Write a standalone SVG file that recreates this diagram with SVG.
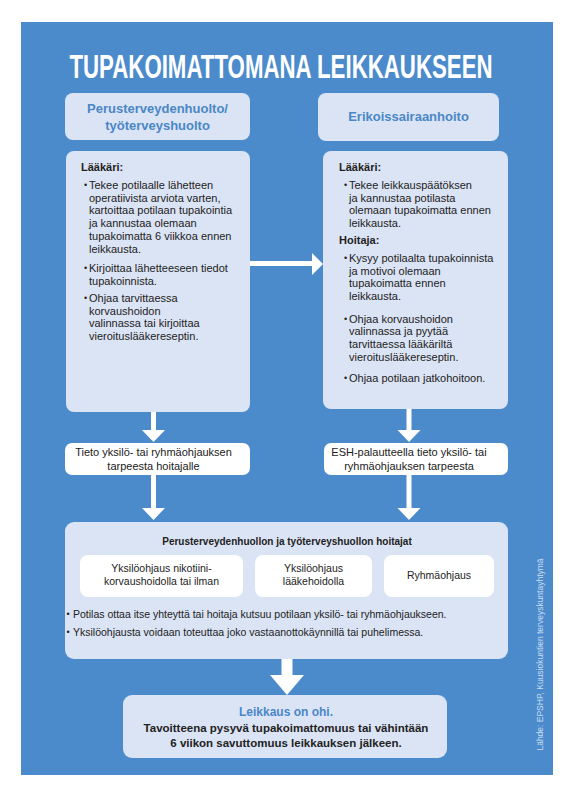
<svg xmlns="http://www.w3.org/2000/svg" width="573" height="798" viewBox="0 0 573 798">
<style>
text{font-family:"Liberation Sans",Arial,sans-serif}
.bg{fill:#4b8bcb}
.box{fill:#dbe4f5}
.wbox{fill:#ffffff}
.title{font-size:34px;font-weight:bold;fill:#ffffff}
.head{font-size:13px;font-weight:bold;fill:#4a87c6}
.t{font-size:11px;fill:#222222}
.tb{font-size:11px;font-weight:bold;fill:#222222}
.s{font-size:10.5px;fill:#222222}
.c{text-anchor:middle}
.bul{font-size:9px;fill:#222222}
.arrow{fill:#ffffff}
.src{font-size:8.5px;fill:#c9dcf1}
</style>
<rect class="bg" x="21" y="22" width="532" height="753"/>
<g id="title" transform="translate(281 78) scale(0.655 1)">
<text class="title c" x="0" y="0">TUPAKOIMATTOMANA LEIKKAUKSEEN</text>
</g>

<g id="header-left">
<rect class="box" x="65" y="93" width="185" height="47" rx="8"/>
<text class="head c" x="157.5" y="113">Perusterveydenhuolto/</text>
<text class="head c" x="157.5" y="130">työterveyshuolto</text>
</g>
<g id="header-right">
<rect class="box" x="318" y="93" width="181" height="48" rx="8"/>
<text class="head c" x="408.5" y="121">Erikoissairaanhoito</text>
</g>

<g id="left-content">
<rect class="box" x="66" y="151" width="184" height="261" rx="8"/>
<text class="tb" x="81" y="171">Lääkäri:</text>
<text class="bul" x="84" y="188">•</text>
<text class="t" x="89" y="189">Tekee potilaalle lähetteen</text>
<text class="t" x="89" y="201.7">operatiivista arviota varten,</text>
<text class="t" x="89" y="214.4">kartoittaa potilaan tupakointia</text>
<text class="t" x="89" y="227.1">ja kannustaa olemaan</text>
<text class="t" x="89" y="239.8">tupakoimatta 6 viikkoa ennen</text>
<text class="t" x="89" y="252.5">leikkausta.</text>
<text class="bul" x="84" y="271">•</text>
<text class="t" x="89" y="272">Kirjoittaa lähetteeseen tiedot</text>
<text class="t" x="89" y="284.7">tupakoinnista.</text>
<text class="bul" x="84" y="301">•</text>
<text class="t" x="89" y="302">Ohjaa tarvittaessa</text>
<text class="t" x="89" y="314.7">korvaushoidon</text>
<text class="t" x="89" y="327.4">valinnassa tai kirjoittaa</text>
<text class="t" x="89" y="340.1">vieroituslääkereseptin.</text>
</g>

<g id="right-content">
<rect class="box" x="323" y="151" width="185" height="258" rx="8"/>
<text class="tb" x="339" y="171">Lääkäri:</text>
<text class="bul" x="344" y="188">•</text>
<text class="t" x="349" y="189">Tekee leikkauspäätöksen</text>
<text class="t" x="349" y="201.7">ja kannustaa potilasta</text>
<text class="t" x="349" y="214.4">olemaan tupakoimatta ennen</text>
<text class="t" x="349" y="227.1">leikkausta.</text>
<text class="tb" x="339" y="243.5">Hoitaja:</text>
<text class="bul" x="344" y="261">•</text>
<text class="t" x="349" y="262">Kysyy potilaalta tupakoinnista</text>
<text class="t" x="349" y="274.7">ja motivoi olemaan</text>
<text class="t" x="349" y="287.4">tupakoimatta ennen</text>
<text class="t" x="349" y="300.1">leikkausta.</text>
<text class="bul" x="344" y="321.5">•</text>
<text class="t" x="349" y="322.5">Ohjaa korvaushoidon</text>
<text class="t" x="349" y="335.2">valinnassa ja pyytää</text>
<text class="t" x="349" y="347.9">tarvittaessa lääkäriltä</text>
<text class="t" x="349" y="360.6">vieroituslääkereseptin.</text>
<text class="bul" x="344" y="380.5">•</text>
<text class="t" x="349" y="381.5">Ohjaa potilaan jatkohoitoon.</text>
</g>

<g id="left-mid">
<rect class="wbox" x="65" y="443" width="185" height="32" rx="7"/>
<text class="t c" x="153.5" y="456">Tieto yksilö- tai ryhmäohjauksen</text>
<text class="t c" x="153.5" y="469.5">tarpeesta hoitajalle</text>
</g>
<g id="right-mid">
<rect class="wbox" x="324" y="443" width="184" height="32" rx="7"/>
<text class="t c" x="409" y="456">ESH-palautteella tieto yksilö- tai</text>
<text class="t c" x="409" y="469.5">ryhmäohjauksen tarpeesta</text>
</g>

<g id="hoitajat">
<rect class="box" x="65" y="522" width="443" height="137" rx="9"/>
<text class="c" x="287" y="545" style="font-size:10px;font-weight:bold;fill:#222222">Perusterveydenhuollon ja työterveyshuollon hoitajat</text>
<g id="opt1">
<rect class="wbox" x="80" y="555" width="163" height="42" rx="8"/>
<text class="s c" x="161.5" y="572">Yksilöohjaus nikotiini-</text>
<text class="s c" x="161.5" y="585">korvaushoidolla tai ilman</text>
</g>
<g id="opt2">
<rect class="wbox" x="255" y="555" width="117" height="42" rx="8"/>
<text class="s c" x="313.5" y="572">Yksilöohjaus</text>
<text class="s c" x="313.5" y="585">lääkehoidolla</text>
</g>
<g id="opt3">
<rect class="wbox" x="384" y="555" width="110" height="42" rx="8"/>
<text class="s c" x="439" y="579">Ryhmäohjaus</text>
</g>
<text class="bul" x="66.5" y="617">•</text>
<text class="s" x="73" y="618">Potilas ottaa itse yhteyttä tai hoitaja kutsuu potilaan yksilö- tai ryhmäohjaukseen.</text>
<text class="bul" x="66.5" y="635">•</text>
<text class="s" x="73" y="636">Yksilöohjausta voidaan toteuttaa joko vastaanottokäynnillä tai puhelimessa.</text>
</g>

<g id="final">
<rect class="box" x="123" y="695" width="324" height="63" rx="9"/>
<text class="c" x="286" y="716" style="font-size:12px;font-weight:bold;fill:#4a87c6">Leikkaus on ohi.</text>
<text class="c" x="286" y="732" style="font-size:11.5px;font-weight:bold;fill:#222222">Tavoitteena pysyvä tupakoimattomuus tai vähintään</text>
<text class="c" x="286" y="747" style="font-size:11.5px;font-weight:bold;fill:#222222">6 viikon savuttomuus leikkauksen jälkeen.</text>
</g>

<g id="connectors">
<polygon class="arrow" points="250,261 312,261 312,253 323,264 312,275 312,266 250,266"/>
<polygon class="arrow" points="151,412 156,412 156,430 165,430 153.5,442 142,430 151,430"/>
<polygon class="arrow" points="151,475 156,475 156,508 165,508 153.5,520 142,508 151,508"/>
<polygon class="arrow" points="406.5,409 411.5,409 411.5,430 420.5,430 409,442 397.5,430 406.5,430"/>
<polygon class="arrow" points="406.5,475 411.5,475 411.5,508 420.5,508 409,520 397.5,508 406.5,508"/>
<polygon class="arrow" points="281.5,659 292.5,659 292.5,675 304,675 287,695 270,675 281.5,675"/>
</g>

<text class="src c" x="543" y="654.5" transform="rotate(-90 543 654.5)">Lähde: EPSHP, Kuusiokuntien terveyskuntayhtymä</text>
</svg>
